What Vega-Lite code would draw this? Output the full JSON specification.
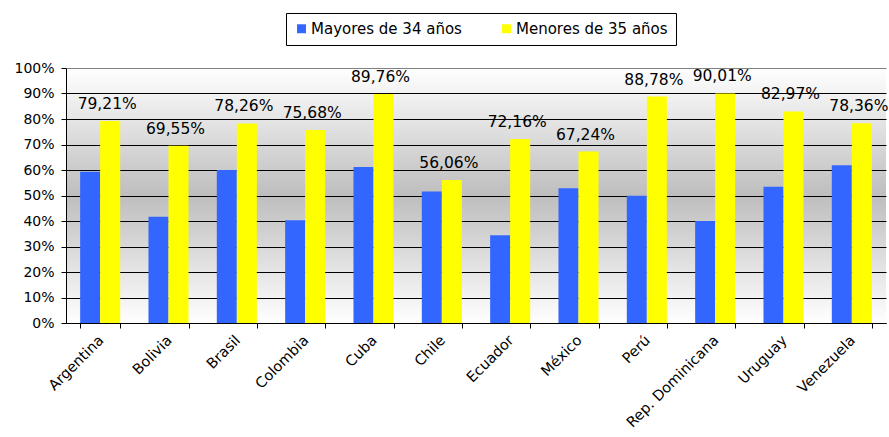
{
  "$schema": "https://vega.github.io/schema/vega-lite/v6.json",
  "width": 820,
  "height": 255,
  "padding": {"top": 12, "left": 13, "right": 3, "bottom": 0},
  "background": "white",
  "config": {
    "locale": {"number": {"decimal": ",", "thousands": ".", "grouping": [3], "currency": ["", " €"]}},
    "font": "DejaVu Sans",
    "view": {
      "stroke": null,
      "fill": {
        "gradient": "linear", "x1": 0, "y1": 0, "x2": 0, "y2": 1,
        "stops": [
          {"offset": 0, "color": "#ffffff"},
          {"offset": 0.5, "color": "#bebebe"},
          {"offset": 1, "color": "#ffffff"}
        ]
      }
    }
  },
  "data": {
    "values": [
      {"pais": "Argentina", "grupo": "Mayores de 34 años", "valor": 0.593},
      {"pais": "Argentina", "grupo": "Menores de 35 años", "valor": 0.7921},
      {"pais": "Bolivia", "grupo": "Mayores de 34 años", "valor": 0.417},
      {"pais": "Bolivia", "grupo": "Menores de 35 años", "valor": 0.6955},
      {"pais": "Brasil", "grupo": "Mayores de 34 años", "valor": 0.600},
      {"pais": "Brasil", "grupo": "Menores de 35 años", "valor": 0.7826},
      {"pais": "Colombia", "grupo": "Mayores de 34 años", "valor": 0.403},
      {"pais": "Colombia", "grupo": "Menores de 35 años", "valor": 0.7568},
      {"pais": "Cuba", "grupo": "Mayores de 34 años", "valor": 0.612},
      {"pais": "Cuba", "grupo": "Menores de 35 años", "valor": 0.8976},
      {"pais": "Chile", "grupo": "Mayores de 34 años", "valor": 0.516},
      {"pais": "Chile", "grupo": "Menores de 35 años", "valor": 0.5606},
      {"pais": "Ecuador", "grupo": "Mayores de 34 años", "valor": 0.344},
      {"pais": "Ecuador", "grupo": "Menores de 35 años", "valor": 0.7216},
      {"pais": "México", "grupo": "Mayores de 34 años", "valor": 0.528},
      {"pais": "México", "grupo": "Menores de 35 años", "valor": 0.6724},
      {"pais": "Perú", "grupo": "Mayores de 34 años", "valor": 0.499},
      {"pais": "Perú", "grupo": "Menores de 35 años", "valor": 0.8878},
      {"pais": "Rep. Dominicana", "grupo": "Mayores de 34 años", "valor": 0.400},
      {"pais": "Rep. Dominicana", "grupo": "Menores de 35 años", "valor": 0.9001},
      {"pais": "Uruguay", "grupo": "Mayores de 34 años", "valor": 0.534},
      {"pais": "Uruguay", "grupo": "Menores de 35 años", "valor": 0.8297},
      {"pais": "Venezuela", "grupo": "Mayores de 34 años", "valor": 0.619},
      {"pais": "Venezuela", "grupo": "Menores de 35 años", "valor": 0.7836}
    ]
  },
  "encoding": {
    "x": {
      "field": "pais", "type": "nominal", "sort": null, "title": null,
      "scale": {"paddingInner": 0.414, "paddingOuter": 0.207},
      "axis": {
        "labelAngle": -45, "labelFontSize": 14.5, "labelColor": "#000000",
        "tickBand": "extent", "domainColor": "#000000", "tickColor": "#000000",
        "tickSize": 5, "labelPadding": 5, "labelOffset": -4, "grid": false
      }
    },
    "xOffset": {
      "field": "grupo", "type": "nominal",
      "sort": ["Mayores de 34 años", "Menores de 35 años"],
      "scale": {"paddingInner": 0, "paddingOuter": 0}
    },
    "y": {
      "field": "valor", "type": "quantitative", "title": null,
      "scale": {"domain": [0, 1], "nice": false},
      "axis": {
        "values": [0, 0.1, 0.2, 0.3, 0.4, 0.5, 0.6, 0.7, 0.8, 0.9, 1],
        "format": ".0%", "labelFontSize": 14, "labelColor": "#000000",
        "labelPadding": 7,
        "domainColor": "#000000", "tickColor": "#000000", "tickSize": 5,
        "gridColor": {"condition": {"test": "datum.value == 1", "value": "#808080"}, "value": "#000000"},
        "gridOpacity": 1, "gridWidth": 1
      }
    }
  },
  "layer": [
    {
      "mark": {"type": "bar"},
      "encoding": {
        "color": {
          "field": "grupo", "type": "nominal",
          "scale": {"domain": ["Mayores de 34 años", "Menores de 35 años"], "range": ["#3366ff", "#ffff00"]},
          "legend": {
            "title": null, "orient": "none", "direction": "horizontal",
            "legendX": 220, "legendY": -55,
            "strokeColor": "#000000", "fillColor": "#ffffff", "padding": 8,
            "symbolType": "square", "symbolSize": 80, "symbolStrokeWidth": 0,
            "labelFontSize": 15, "labelColor": "#000000", "labelOffset": 2,
            "columnPadding": 37, "labelLimit": 300
          }
        }
      }
    },
    {
      "transform": [{"filter": "datum.grupo == 'Menores de 35 años'"}],
      "mark": {"type": "text", "dy": -9, "dx": -3, "fontSize": 15.5, "color": "#000000", "baseline": "bottom"},
      "encoding": {
        "text": {"field": "valor", "type": "quantitative", "format": ".2%"}
      }
    }
  ]
}
